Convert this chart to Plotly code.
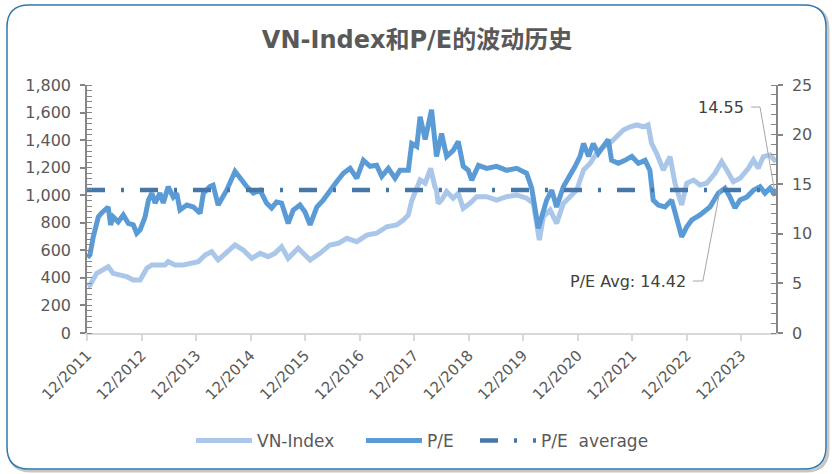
import plotly.graph_objects as go

# ---------------- data ----------------
pe_dates = [
    "2011-12-05", "2011-12-21", "2012-01-12", "2012-02-15", "2012-03-08", "2012-04-21",
    "2012-05-07", "2012-05-24", "2012-06-27", "2012-07-31", "2012-09-03", "2012-10-06",
    "2012-10-29", "2012-11-21", "2012-12-24", "2013-01-16", "2013-02-08", "2013-03-01",
    "2013-04-03", "2013-04-25", "2013-05-28", "2013-07-01", "2013-07-24", "2013-08-15",
    "2013-09-30", "2013-11-13", "2013-12-28", "2014-01-19", "2014-03-03", "2014-03-25",
    "2014-04-28", "2014-06-24", "2014-08-19", "2014-09-21", "2014-11-06", "2014-12-20",
    "2015-02-03", "2015-03-18", "2015-04-21", "2015-05-24", "2015-06-27", "2015-08-10",
    "2015-09-13", "2015-10-28", "2015-12-01", "2016-01-04", "2016-02-18", "2016-04-01",
    "2016-05-16", "2016-06-30", "2016-08-14", "2016-09-28", "2016-11-12", "2016-12-26",
    "2017-02-09", "2017-03-25", "2017-04-28", "2017-06-11", "2017-07-26", "2017-08-28",
    "2017-10-23", "2017-11-15", "2017-12-19", "2018-01-10", "2018-02-13", "2018-03-28",
    "2018-04-30", "2018-06-03", "2018-07-07", "2018-08-20", "2018-09-23", "2018-10-26",
    "2018-11-29", "2018-12-22", "2019-02-05", "2019-04-01", "2019-06-07", "2019-08-13",
    "2019-10-19", "2019-12-25", "2020-01-28", "2020-02-20", "2020-03-12", "2020-04-04",
    "2020-05-07", "2020-06-10", "2020-07-13", "2020-08-27", "2020-10-11", "2020-11-14",
    "2020-12-17", "2021-01-09", "2021-02-12", "2021-03-15", "2021-04-18", "2021-05-21",
    "2021-06-24", "2021-07-16", "2021-08-30", "2021-10-14", "2021-11-29", "2022-01-12",
    "2022-02-26", "2022-03-30", "2022-04-21", "2022-05-25", "2022-07-09", "2022-08-23",
    "2022-09-26", "2022-10-29", "2022-12-02", "2023-01-05", "2023-03-01", "2023-05-06",
    "2023-07-01", "2023-08-15", "2023-09-18", "2023-10-21", "2023-11-24", "2024-01-08",
    "2024-02-22", "2024-04-06", "2024-05-09", "2024-06-12", "2024-07-15", "2024-07-22",
]
pe_values = [
    7.6, 7.9, 9.7, 11.7, 12.1, 12.7,
    10.9, 11.7, 11.2, 11.9, 11.05, 10.9,
    10.05, 10.4, 11.7, 13.4, 14.1, 13.1,
    14.1, 13.1, 14.75, 13.7, 14.1, 12.4,
    12.9, 12.7, 12.07, 14.1, 14.75, 14.9,
    12.9, 14.4, 16.3, 15.6, 14.75, 14.1,
    14.4, 13.1, 12.6, 13.2, 13.1, 11.05,
    12.4, 12.9, 12.2, 10.9, 12.7, 13.4,
    14.4, 15.25, 16.1, 16.6, 15.6, 17.4,
    16.8, 16.9, 15.8, 16.6, 15.6, 16.4,
    16.4, 19.1, 18.8, 21.8, 19.5, 22.5,
    17.8, 20.1, 17.8, 18.4, 19.3, 16.8,
    16.4, 15.4, 16.9, 16.6, 16.8, 16.4,
    16.6, 16.1, 14.6, 12.7, 10.55, 11.7,
    13.4, 14.4, 12.7, 14.75, 15.8, 16.8,
    17.8, 19.1, 17.8, 19.1, 18.1, 18.8,
    19.5, 17.4, 17.1, 17.4, 17.8, 17.1,
    17.4, 16.4, 13.4, 12.9, 12.7, 13.4,
    11.7, 9.7, 10.7, 11.4, 11.9, 12.7,
    14.1, 14.6, 13.7, 12.6, 13.4, 13.7,
    14.4, 14.75, 14.1, 14.6, 13.9, 14.55,
]

vn_dates = [
    "2011-12-05", "2011-12-21", "2012-02-04", "2012-03-18", "2012-04-21", "2012-05-24",
    "2012-07-08", "2012-08-23", "2012-10-06", "2012-11-21", "2013-01-05", "2013-02-08",
    "2013-03-22", "2013-05-06", "2013-05-28", "2013-07-12", "2013-09-07", "2013-10-21",
    "2013-12-16", "2014-01-31", "2014-03-15", "2014-04-28", "2014-06-24", "2014-08-19",
    "2014-10-13", "2014-12-09", "2015-02-03", "2015-03-29", "2015-05-13", "2015-06-27",
    "2015-08-10", "2015-10-16", "2016-01-04", "2016-03-10", "2016-05-16", "2016-07-11",
    "2016-09-06", "2016-11-12", "2017-01-18", "2017-03-25", "2017-05-31", "2017-08-06",
    "2017-09-20", "2017-10-23", "2017-11-15", "2018-01-10", "2018-02-13", "2018-03-22",
    "2018-04-19", "2018-04-30", "2018-05-11", "2018-06-03", "2018-07-07", "2018-08-20",
    "2018-09-23", "2018-10-26", "2018-12-10", "2019-01-25", "2019-04-01", "2019-06-07",
    "2019-08-13", "2019-10-19", "2019-12-25", "2020-02-08", "2020-03-01", "2020-03-19",
    "2020-04-15", "2020-05-30", "2020-07-13", "2020-08-27", "2020-10-11", "2020-11-25",
    "2021-01-09", "2021-02-23", "2021-04-07", "2021-05-21", "2021-07-05", "2021-08-19",
    "2021-10-03", "2021-11-17", "2022-01-01", "2022-02-15", "2022-03-18", "2022-04-10",
    "2022-05-14", "2022-06-28", "2022-08-12", "2022-09-14", "2022-10-29", "2022-12-02",
    "2023-01-16", "2023-03-01", "2023-04-14", "2023-06-09", "2023-07-24", "2023-08-27",
    "2023-10-10", "2023-11-24", "2024-01-19", "2024-02-22", "2024-03-25", "2024-04-28",
    "2024-06-12", "2024-07-22",
]
vn_values = [
    340, 348, 433, 457, 481, 433,
    421, 409, 385, 385, 470, 494,
    494, 494, 518, 494, 494, 506,
    518, 566, 590, 530, 590, 639,
    602, 542, 578, 554, 578, 626,
    542, 615, 530, 578, 639, 651,
    687, 663, 711, 724, 771, 784,
    820, 856, 960, 1110, 1087, 1195,
    1062, 1038, 941, 965, 1026, 978,
    1014, 905, 941, 989, 989, 965,
    989, 1002, 978, 941, 796, 675,
    844, 893, 796, 941, 989, 1038,
    1183, 1232, 1304, 1352, 1377, 1425,
    1473, 1497, 1510, 1497, 1510, 1377,
    1304, 1183, 1280, 1087, 929, 1087,
    1110, 1074, 1087, 1159, 1243, 1183,
    1098, 1123, 1195, 1256, 1195, 1280,
    1292, 1243,
]

pe_avg = 14.42
avg_dates = ["2011-12-01", "2024-07-22"]
pe_last_label = "14.55"
pe_avg_label = "P/E Avg: 14.42"

series_names = ["VN-Index", "P/E", "P/E\u00a0 average"]
title_text = "VN-Index和P/E的波动历史"

# ---------------- figure ----------------
W, H = 832, 474
L, R, T, B = 87, 776, 85, 333

def px(x):
    return (x - L) / (R - L)

def py(y):
    return (B - y) / (B - T)

def rounded_rect(x0, y0, x1, y1, r):
    pts = [
        ("M", [(x0 + r, y0)]), ("L", [(x1 - r, y0)]), ("Q", [(x1, y0), (x1, y0 + r)]),
        ("L", [(x1, y1 - r)]), ("Q", [(x1, y1), (x1 - r, y1)]),
        ("L", [(x0 + r, y1)]), ("Q", [(x0, y1), (x0, y1 - r)]),
        ("L", [(x0, y0 + r)]), ("Q", [(x0, y0), (x0 + r, y0)]),
    ]
    s = ""
    for cmd, ps in pts:
        s += cmd + " ".join(f"{px(a):.5f},{py(b):.5f}" for a, b in ps) + " "
    return s + "Z"

fig = go.Figure()

fig.add_trace(go.Scatter(
    x=pe_dates, y=pe_values, name=series_names[1], mode="lines", yaxis="y2",
    line=dict(color="#5b9bd5", width=5), legend="legend2",
))
fig.add_trace(go.Scatter(
    x=vn_dates, y=vn_values, name=series_names[0], mode="lines", yaxis="y",
    line=dict(color="#aac7e9", width=5), legend="legend",
))
fig.add_trace(go.Scatter(
    x=avg_dates, y=[pe_avg] * len(avg_dates), name=series_names[2], mode="lines", yaxis="y2",
    line=dict(color="#4677a8", width=4.5, dash="18px,16px,3px,16px"), legend="legend3",
))

tick_font = dict(family="DejaVu Sans, Noto Sans CJK SC", size=16, color="#595959")

shapes = [
    dict(type="path", xref="paper", yref="paper", path=rounded_rect(9, 7, 828, 471, 22),
         line=dict(color="rgba(0,0,0,0.22)", width=3), layer="below"),
    dict(type="path", xref="paper", yref="paper", path=rounded_rect(7, 5, 826, 469, 22),
         line=dict(color="#2f78a8", width=1.5), fillcolor="white", layer="below"),
    # leader lines for the labels
    dict(type="line", xref="x", yref="y2", x0="2024-02-06", y0=22.78, x1="2024-04-06", y1=22.78,
         line=dict(color="#a6a6a6", width=1)),
    dict(type="line", xref="x", yref="y2", x0="2024-04-06", y0=22.78, x1="2024-07-10", y1=pe_values[-1],
         line=dict(color="#a6a6a6", width=1)),
    dict(type="line", xref="x", yref="y2", x0="2023-01-13", y0=5.24, x1="2023-03-20", y1=5.24,
         line=dict(color="#a6a6a6", width=1)),
    dict(type="line", xref="x", yref="y2", x0="2023-03-20", y0=5.24, x1="2023-07-13", y1=pe_avg,
         line=dict(color="#a6a6a6", width=1)),
]

annotations = [
    dict(x="2024-02-06", y=22.78, xref="x", yref="y2", text=pe_last_label, showarrow=False,
         xanchor="right", yanchor="middle", xshift=-5,
         font=dict(family="DejaVu Sans", size=16, color="#404040")),
    dict(x="2023-01-13", y=5.24, xref="x", yref="y2", text=pe_avg_label, showarrow=False,
         xanchor="right", yanchor="middle", xshift=-5,
         font=dict(family="DejaVu Sans", size=16, color="#404040")),
]

def legend_at(xpix):
    return dict(orientation="h", xref="container", yref="container",
                x=xpix / W, xanchor="left", y=1 - 441 / H, yanchor="middle",
                font=dict(family="DejaVu Sans", size=17, color="#595959"),
                bgcolor="rgba(0,0,0,0)", itemwidth=56)

fig.update_layout(
    width=W, height=H,
    margin=dict(l=L, r=W - R, t=T, b=H - B, autoexpand=False),
    paper_bgcolor="white", plot_bgcolor="rgba(0,0,0,0)",
    title=dict(text="<b>" + title_text + "</b>", x=417 / W, xanchor="center",
               y=1 - 40 / H, yanchor="middle",
               font=dict(family="DejaVu Sans, Noto Sans CJK SC", size=24, color="#595959")),
    showlegend=True,
    legend=legend_at(196 - 5),
    legend2=legend_at(366 - 5),
    legend3=legend_at(480 - 5),
    xaxis=dict(
        type="date", range=["2011-12-01", "2024-07-22"],
        tick0="2011-12-01", dtick="M12", tickformat="%m/%Y", tickangle=-45,
        showgrid=False, zeroline=False, showline=True, linecolor="#d9d9d9", linewidth=1.5,
        ticks="outside", ticklen=6, tickcolor="#d9d9d9", tickwidth=1.5,
        tickfont=dict(family="DejaVu Sans", size=15, color="#595959"),
    ),
    yaxis=dict(
        range=[0, 1800], dtick=200, tickformat=",d", showgrid=False, zeroline=False,
        showline=True, linecolor="#868686", linewidth=1.5,
        ticks="outside", ticklen=5, tickcolor="#868686", tickwidth=1.5,
        minor=dict(dtick=40, ticks="inside", ticklen=5, tickcolor="#868686", tickwidth=1),
        tickfont=tick_font, ticklabelstandoff=6,
    ),
    yaxis2=dict(
        range=[0, 25], dtick=5, overlaying="y", side="right", showgrid=False, zeroline=False,
        showline=True, linecolor="#868686", linewidth=1.5,
        ticks="outside", ticklen=5, tickcolor="#868686", tickwidth=1.5,
        minor=dict(dtick=1, ticks="inside", ticklen=5, tickcolor="#868686", tickwidth=1),
        tickfont=tick_font, ticklabelstandoff=6,
    ),
    shapes=shapes,
    annotations=annotations,
)

fig.write_html(
    "out.html",
    config={"displayModeBar": False},
    post_script="document.body.style.margin='0';document.body.style.overflow='hidden';",
)
